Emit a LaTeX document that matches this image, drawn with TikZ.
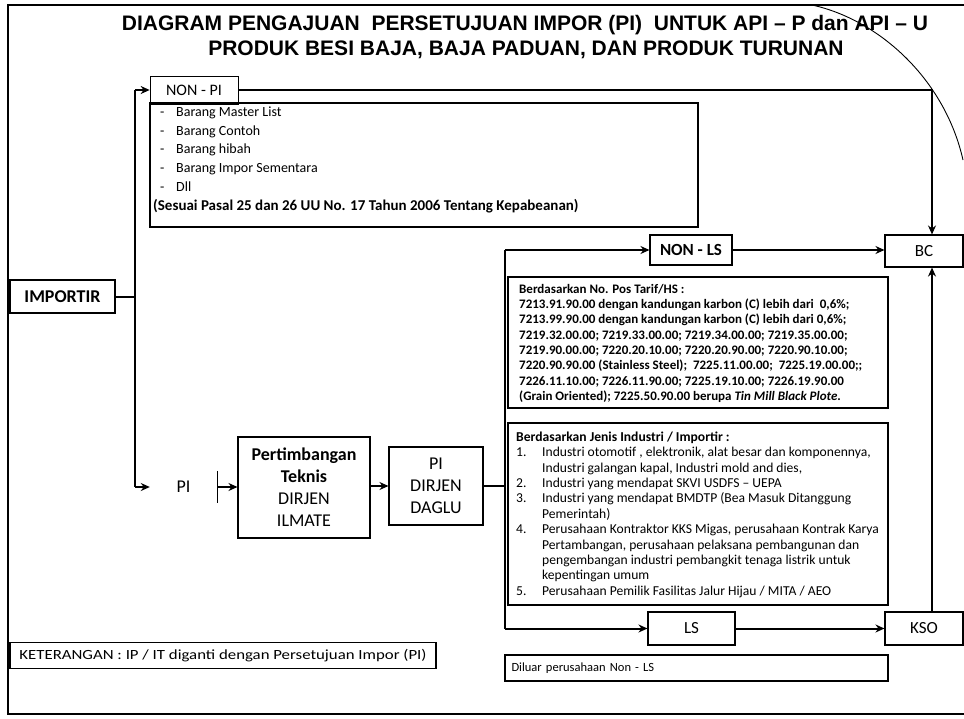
\documentclass[tikz,border=0pt]{standalone}
\usepackage{fontspec}
\setmainfont{Carlito}
\newfontfamily\titlefont{Liberation Sans}
\usetikzlibrary{arrows.meta,calc}
\begin{document}
\begin{tikzpicture}[x=1pt,y=-1pt,
  box/.style={draw, line width=1.1pt, inner sep=0pt, align=center},
  txt/.style={anchor=north west, inner sep=0pt, align=left},
  conn/.style={line width=2pt},
  trunk/.style={line width=2.6pt},
  arr/.style={line width=2pt, -{Stealth[length=9pt,width=8pt]}},
]
\useasboundingbox (0,0) rectangle (964,718);
% frame
\draw[line width=1.4pt] (966,5) -- (8,5) -- (8,714) -- (966,714);
% title
\node[anchor=base, inner sep=0pt, font=\titlefont\bfseries\fontsize{21}{25}\selectfont] (title1) at (525,30)
  {DIAGRAM PENGAJUAN\ \ PERSETUJUAN IMPOR (PI)\ \ UNTUK API – P dan API – U};
\node[anchor=base, inner sep=0pt, font=\titlefont\bfseries\fontsize{21}{25}\selectfont] (title2) at (526,55)
  {PRODUK BESI BAJA, BAJA PADUAN, DAN PRODUK TURUNAN};
\draw[line width=0.9pt] (812,5) .. controls (880,20) and (945,80) .. (963,160);

% nodes
\node[box, minimum width=105pt, minimum height=33pt, font=\bfseries\fontsize{18}{20}\selectfont] (importir) at (62.5,296.5) {IMPORTIR};
\node[box, line width=0.7pt, minimum width=88pt, minimum height=28pt, font=\fontsize{16}{18}\selectfont] (nonpi) at (194,90) {NON - PI};
\node[box, minimum width=548pt, minimum height=124pt] (list) at (424,165) {};
\node[txt, font=\fontsize{14}{18.8}\selectfont] (listtxt) at (153,106.5)
  {\makebox[23pt][l]{\hspace*{7pt}-}Barang Master List\\
   \makebox[23pt][l]{\hspace*{7pt}-}Barang Contoh\\
   \makebox[23pt][l]{\hspace*{7pt}-}Barang hibah\\
   \makebox[23pt][l]{\hspace*{7pt}-}Barang Impor Sementara\\
   \makebox[23pt][l]{\hspace*{7pt}-}Dll\\
   \textbf{\fontsize{15}{18.8}\selectfont(Sesuai Pasal 25 dan 26 UU No. 17 Tahun 2006 Tentang Kepabeanan)}};

\node[box, minimum width=82pt, minimum height=30pt, font=\bfseries\fontsize{17}{20}\selectfont] (nonls) at (691,250) {NON - LS};
\node[box, minimum width=78pt, minimum height=32pt, font=\fontsize{17}{20}\selectfont] (bc) at (924,251) {BC};

\node[box, minimum width=380pt, minimum height=131pt] (hs) at (698,342.5) {};
\node[txt, font=\bfseries\fontsize{13}{15.3}\selectfont] (hstxt) at (519,284)
  {Berdasarkan No. Pos Tarif/HS :\\
   7213.91.90.00 dengan kandungan karbon (C) lebih dari\ \ 0,6\%;\\
   7213.99.90.00 dengan kandungan karbon (C) lebih dari 0,6\%;\\
   7219.32.00.00; 7219.33.00.00; 7219.34.00.00; 7219.35.00.00;\\
   7219.90.00.00; 7220.20.10.00; 7220.20.90.00; 7220.90.10.00;\\
   7220.90.90.00 (Stainless Steel);\ \ 7225.11.00.00;\ \ 7225.19.00.00;;\\
   7226.11.10.00; 7226.11.90.00; 7225.19.10.00; 7226.19.90.00\\
   (Grain Oriented); 7225.50.90.00 berupa \textit{Tin Mill Black Plote}.};

\node[box, minimum width=380pt, minimum height=182pt] (ind) at (698,514) {};
\node[txt, font=\fontsize{13.6}{15.4}\selectfont] (indtxt) at (516,431.5)
  {\textbf{Berdasarkan Jenis Industri / Importir :}\\
   \makebox[26pt][l]{1.}Industri otomotif , elektronik, alat besar dan komponennya,\\
   \hspace*{26pt}Industri galangan kapal, Industri mold and dies,\\
   \makebox[26pt][l]{2.}Industri yang mendapat SKVI USDFS – UEPA\\
   \makebox[26pt][l]{3.}Industri yang mendapat BMDTP (Bea Masuk Ditanggung\\
   \hspace*{26pt}Pemerintah)\\
   \makebox[26pt][l]{4.}Perusahaan Kontraktor KKS Migas, perusahaan Kontrak Karya\\
   \hspace*{26pt}Pertambangan, perusahaan pelaksana pembangunan dan\\
   \hspace*{26pt}pengembangan industri pembangkit tenaga listrik untuk\\
   \hspace*{26pt}kepentingan umum\\
   \makebox[26pt][l]{5.}Perusahaan Pemilik Fasilitas Jalur Hijau / MITA / AEO};

\node[inner sep=0pt, minimum width=67pt, minimum height=32pt, font=\fontsize{18}{20}\selectfont] (pi) at (183.5,487) {PI};
\node[box, minimum width=132pt, minimum height=101pt, font=\fontsize{18}{22}\selectfont] (pert) at (304,487.5)
  {\textbf{Pertimbangan}\\\textbf{Teknis}\\DIRJEN\\ILMATE};
\node[box, minimum width=94pt, minimum height=78pt, font=\fontsize{18}{22}\selectfont] (daglu) at (436,486) {PI\\DIRJEN\\DAGLU};

\node[box, minimum width=87pt, minimum height=33pt, font=\fontsize{17}{20}\selectfont] (ls) at (691.5,628.5) {LS};
\node[box, minimum width=78pt, minimum height=33pt, font=\fontsize{17}{20}\selectfont] (kso) at (924,628.5) {KSO};
\node[box, minimum width=383pt, minimum height=26pt, text width=370pt, align=left, font=\fontsize{12.5}{14}\selectfont] (diluar) at (696.5,668) {Diluar perusahaan Non - LS};
\node[box, minimum width=426pt, minimum height=26pt, font=\fontsize{14}{16}\selectfont] (ket) at (223,655.5)
  {\scalebox{1.2}[1]{KETERANGAN : IP / IT diganti dengan Persetujuan Impor (PI)}};

% helper coordinates
\coordinate (t1top) at (135,90);
\coordinate (t1bot) at (135,487);
\coordinate (t2top) at (505,250);
\coordinate (t2bot) at (505,628.5);
\coordinate (bcx) at (932,0);

% connectors
\draw[line width=1pt] (pi.north east) -- (pi.south east);
\draw[conn] (importir.east) -- (importir.east -| t1top);
\draw[trunk] (t1top) -- (t1bot);
\draw[arr] (t1top) -- (nonpi.west);
\draw[arr] (t1bot) -- (pi.west);
\draw[arr] (nonpi.east) -| (bcx |- bc.north);
\draw[arr] (pi.east) -- (pert.west |- pi.east);
\draw[arr] (pert.east |- daglu.west) -- (daglu.west);
\draw[conn] (daglu.east) -- (daglu.east -| t2top);
\draw[trunk] (t2top) -- (t2bot);
\draw[arr] (t2top) -- (nonls.west);
\draw[arr] (nonls.east) -- (bc.west |- nonls.east);
\draw[arr] (t2bot) -- (ls.west);
\draw[arr] (ls.east) -- (kso.west);
\draw[arr] (bcx |- kso.north) -- (bcx |- bc.south);
\end{tikzpicture}
\end{document}
